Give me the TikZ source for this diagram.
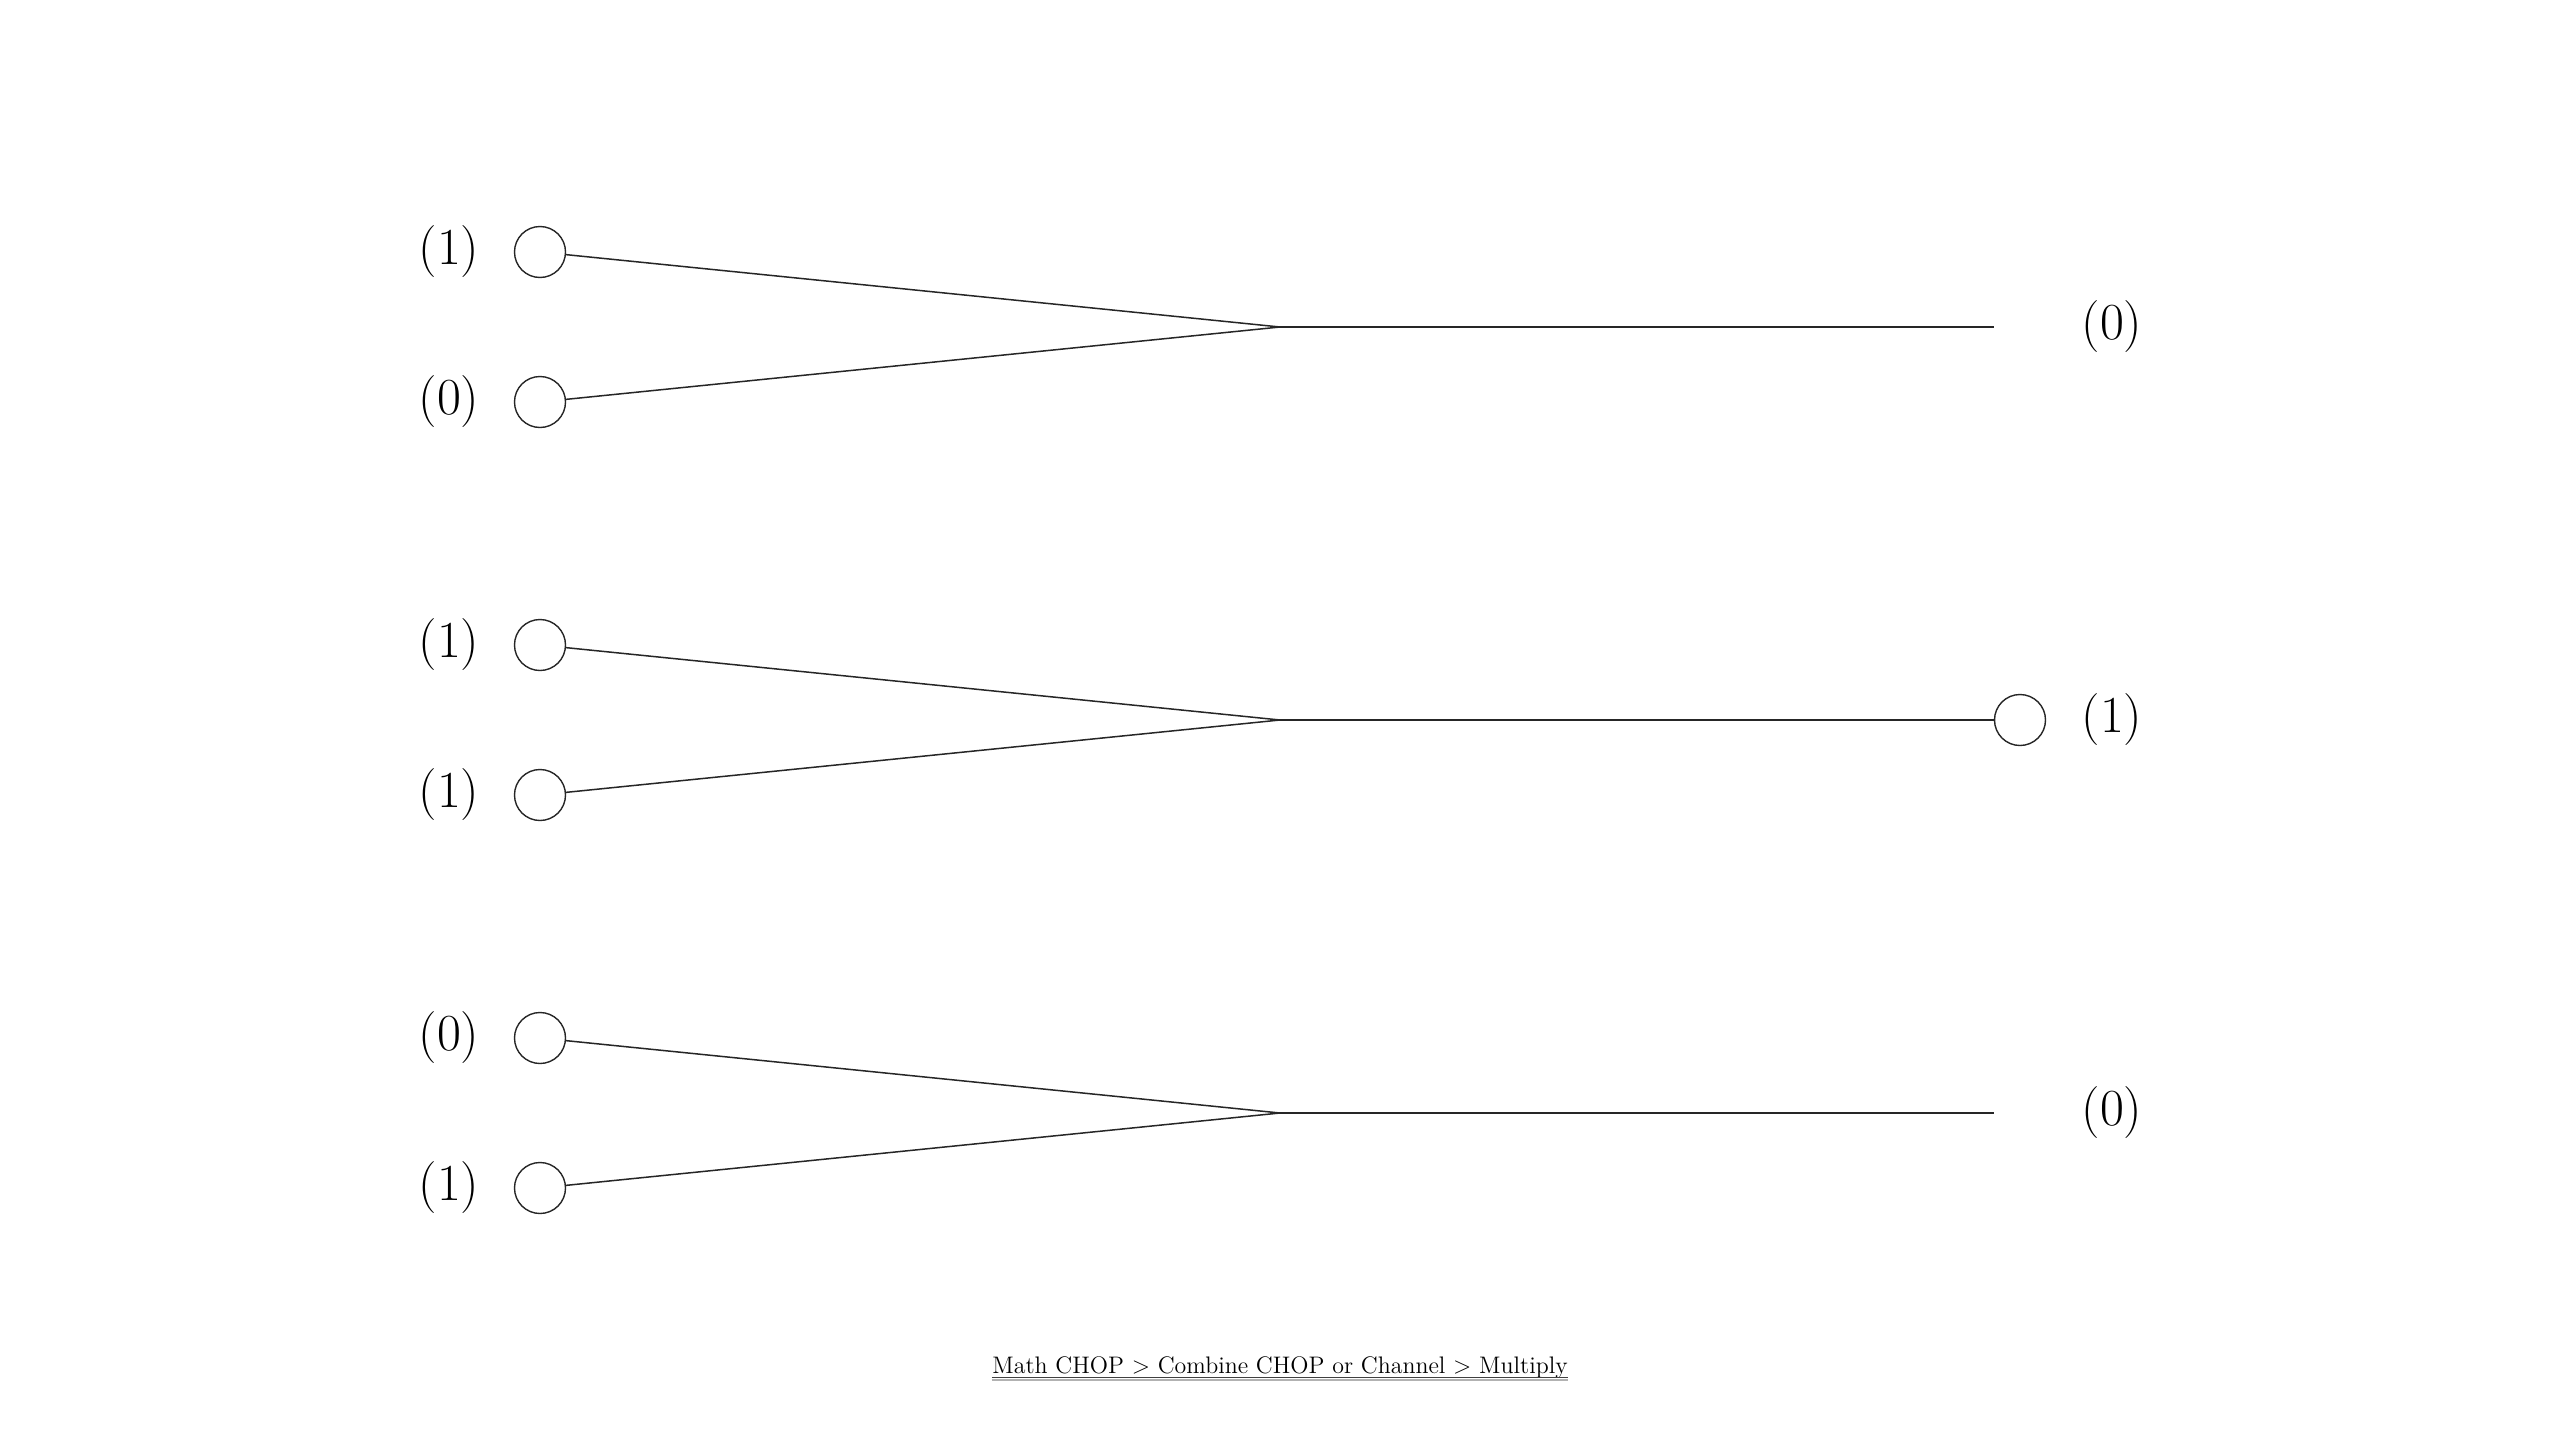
\documentclass[tikz,border=0pt]{standalone}
\usetikzlibrary{calc}
\tikzset{
  port/.style={circle,draw=black!85,line width=0.7pt,minimum size=25.5pt,inner sep=0pt,fill=white},
  val/.style={font=\fontsize{26}{30}\selectfont,inner sep=0pt,text=black},
  wire/.style={draw=black!85,line width=0.75pt},
  captxt/.style={font=\fontsize{11.95}{14}\selectfont,inner sep=0pt,text=black}
}
\begin{document}
\begin{tikzpicture}[x=0.5pt,y=-0.5pt]
\useasboundingbox[fill=white] (0,0) rectangle (2560,1440);
% Row 1
\node[port] (a1) at (540,252) {};
\node[port] (b1) at (540,402) {};
\node[val] (la1) at (449,252) {(1)};
\node[val] (lb1) at (449,402) {(0)};
\coordinate (m1) at (1280,327);
\coordinate (e1) at (1994,327);
\node[val] (o1) at (2112,327) {(0)};
\draw[wire] (a1) -- (m1);
\draw[wire] (b1) -- (m1);
\draw[wire] (m1) -- (e1);
% Row 2
\node[port] (a2) at (540,645) {};
\node[port] (b2) at (540,795) {};
\node[val] (la2) at (449,645) {(1)};
\node[val] (lb2) at (449,795) {(1)};
\coordinate (m2) at (1280,720);
\node[port] (c2) at (2020,720) {};
\node[val] (o2) at (2112,720) {(1)};
\draw[wire] (a2) -- (m2);
\draw[wire] (b2) -- (m2);
\draw[wire] (m2) -- (c2);
% Row 3
\node[port] (a3) at (540,1038) {};
\node[port] (b3) at (540,1188) {};
\node[val] (la3) at (449,1038) {(0)};
\node[val] (lb3) at (449,1188) {(1)};
\coordinate (m3) at (1280,1113);
\coordinate (e3) at (1994,1113);
\node[val] (o3) at (2112,1113) {(0)};
\draw[wire] (a3) -- (m3);
\draw[wire] (b3) -- (m3);
\draw[wire] (m3) -- (e3);
% Caption
\node[captxt,anchor=base] (cap) at (1280,1373) {Math CHOP > Combine CHOP or Channel > Multiply};
\draw[black!75,line width=0.5pt] ([yshift=-2.3pt]cap.base west) -- ([yshift=-2.3pt]cap.base east);
\draw[black!30,line width=1.1pt] ([yshift=-3.6pt]cap.base west) -- ([yshift=-3.6pt]cap.base east);
\end{tikzpicture}
\end{document}
